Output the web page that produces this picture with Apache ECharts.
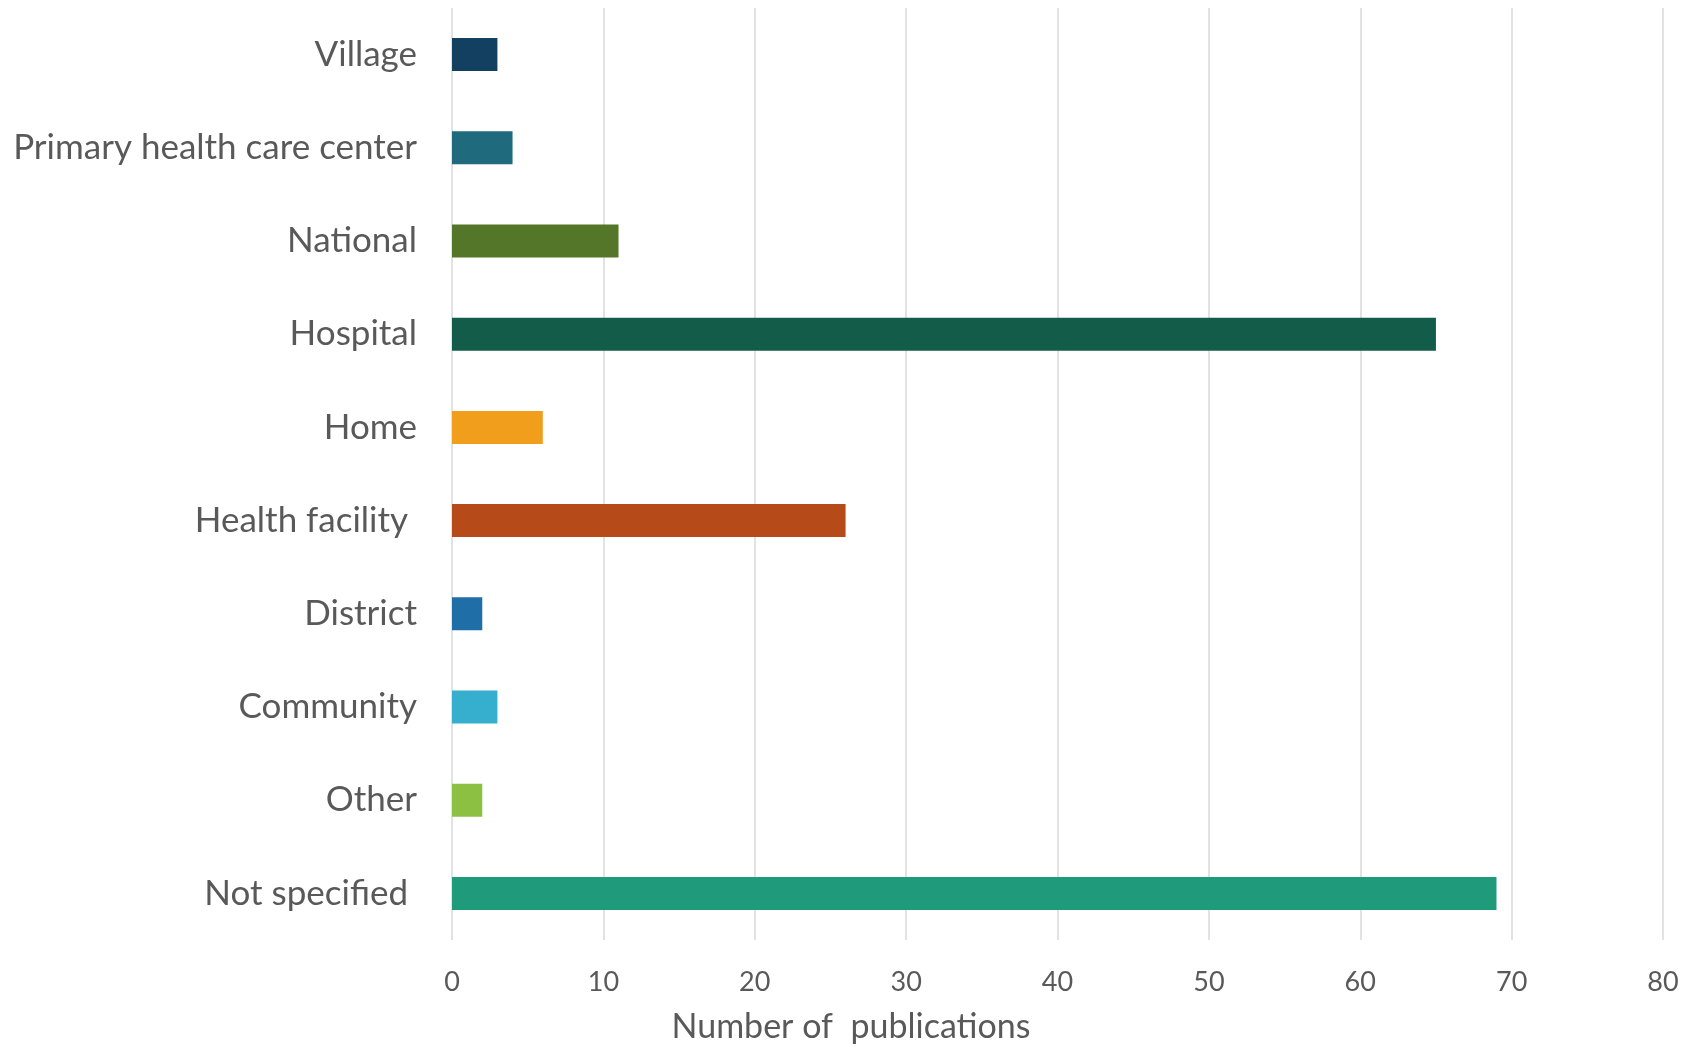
<!DOCTYPE html>
<html><head><meta charset="utf-8">
<script src="https://cdn.jsdelivr.net/npm/echarts@6/dist/echarts.min.js"></script>
<style>html,body{margin:0;padding:0;background:#fff}#c{width:1698px;height:1046px}</style>
</head><body><div id="c"></div>
<script>
const categories = ["Village","Primary health care center","National","Hospital","Home","Health facility ","District","Community","Other","Not specified "];
const values = [3,4,11,65,6,26,2,3,2,69];
const barColors = ["#133f61","#1f6a7c","#547628","#125c49","#f09e1c","#b64a18","#1f6ea8","#36aecd","#8bc043","#1f9b7b"];
const xTicks = [0,10,20,30,40,50,60,70,80];
const axisTitle = "Number of  publications";

const chart = echarts.init(document.getElementById('c'));
chart.setOption({
  animation:false,
  grid:{left:452,right:35,top:8,bottom:106,containLabel:false},
  xAxis:{type:'value',min:xTicks[0],max:xTicks[xTicks.length-1],interval:10,
    axisLine:{show:false},axisTick:{show:false},
    splitLine:{show:true,lineStyle:{color:'#d9d9d9',width:1.5}},
    axisLabel:{color:'#595959',fontFamily:'Lato',fontSize:27,margin:29}},
  yAxis:{type:'category',data:categories,inverse:true,
    axisLine:{show:false},axisTick:{show:false},splitLine:{show:false},
    axisLabel:{color:'#595959',fontFamily:'Lato',fontSize:35,margin:35}},
  graphic:[{type:'text',x:851,y:1027,
    style:{text:axisTitle,fill:'#595959',font:'34px Lato',align:'center',verticalAlign:'middle'}}],
  series:[{type:'bar',barWidth:33,
    data:values.map((v,i)=>({value:v,itemStyle:{color:barColors[i]}}))}]
});
</script></body></html>
